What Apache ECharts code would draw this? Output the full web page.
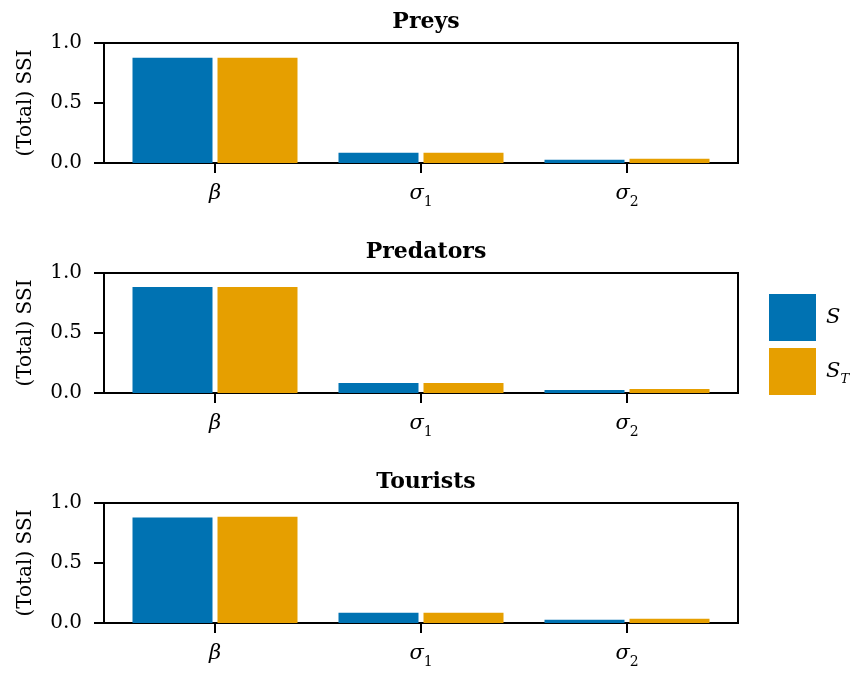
<!DOCTYPE html>
<html>
<head>
<meta charset="utf-8">
<script src="https://cdn.jsdelivr.net/npm/echarts@6/dist/echarts.min.js"></script>
<style>
  html, body { margin: 0; padding: 0; background: #fff; }
  #main { width: 858px; height: 674px; }
</style>
</head>
<body>
<div id="main"></div>
<script>
// data
const params = ['beta', 'sigma1', 'sigma2'];
const panelTitles = ['Preys', 'Predators', 'Tourists'];
const firstOrder = [
  [0.877, 0.086, 0.027],
  [0.883, 0.083, 0.025],
  [0.879, 0.086, 0.027]
];
const totalOrder = [
  [0.877, 0.086, 0.035],
  [0.883, 0.083, 0.033],
  [0.886, 0.086, 0.035]
];
const yTicks = [0, 0.5, 1.0];

const FONT = 'DejaVu Serif';
const BLUE = '#0072b2';
const ORANGE = '#e69f00';

const chart = echarts.init(document.getElementById('main'));

const panelTop = [43, 273, 503];
const grids = [], xAxes = [], yAxes = [], series = [], titles = [];

const labelRich = {
  i: { fontFamily: FONT, fontStyle: 'italic', fontSize: 21, lineHeight: 30, color: '#000' },
  s: { fontFamily: FONT, fontSize: 14, lineHeight: 14, verticalAlign: 'bottom', color: '#000' }
};
const fmtParam = (p) => {
  if (p === 'beta') return '{i|β}';
  if (p === 'sigma1') return '{i|σ}{s|1}';
  return '{i|σ}{s|2}';
};

panelTitles.forEach((t, k) => {
  const top = panelTop[k];
  // frame grid: box + y axis
  grids.push({ left: 104, width: 634, top: top, height: 120, show: true,
    borderColor: '#000', borderWidth: 2, containLabel: false });
  // inner grid: bars + category ticks
  grids.push({ left: 112, width: 618, top: top, height: 120, containLabel: false });

  xAxes.push({ gridIndex: 2 * k, type: 'value', min: 0, max: 1, show: false });
  yAxes.push({
    gridIndex: 2 * k, type: 'value', min: 0, max: 1, interval: 0.5,
    axisLine: { show: false },
    axisTick: { show: true, length: 10, lineStyle: { color: '#000', width: 2 } },
    splitLine: { show: false },
    axisLabel: { margin: 22, fontFamily: FONT, fontSize: 20, color: '#000',
      formatter: (v) => yTicks.includes(v) ? v.toFixed(1) : '' },
    name: '(Total) SSI', nameLocation: 'middle', nameGap: 68,
    nameTextStyle: { fontFamily: FONT, fontSize: 20, color: '#000' }
  });

  xAxes.push({
    gridIndex: 2 * k + 1, type: 'category', data: params,
    axisLine: { show: false },
    axisTick: { show: true, alignWithLabel: true, length: 10, lineStyle: { color: '#000', width: 2 } },
    axisLabel: { margin: 16, formatter: fmtParam, rich: labelRich }
  });
  yAxes.push({ gridIndex: 2 * k + 1, type: 'value', min: 0, max: 1, show: false });

  series.push({
    name: 'S', type: 'bar', xAxisIndex: 2 * k + 1, yAxisIndex: 2 * k + 1,
    data: firstOrder[k], barWidth: 80, barGap: '6.25%',
    itemStyle: { color: BLUE }, silent: true
  });
  series.push({
    name: 'ST', type: 'bar', xAxisIndex: 2 * k + 1, yAxisIndex: 2 * k + 1,
    data: totalOrder[k], barWidth: 80, barGap: '6.25%',
    itemStyle: { color: ORANGE }, silent: true
  });

  titles.push({
    text: t, left: 421, top: top - 37, textAlign: 'center',
    textStyle: { fontFamily: FONT, fontWeight: 'bold', fontSize: 22, color: '#000' }
  });
});

const option = {
  backgroundColor: '#ffffff',
  animation: false,
  title: titles,
  legend: {
    orient: 'vertical', left: 769, top: 294, padding: 0,
    itemWidth: 47, itemHeight: 47, itemGap: 7, icon: 'rect',
    data: ['S', 'ST'],
    formatter: (n) => n === 'S' ? '{i|S}' : '{i|S}{s|T}',
    textStyle: {
      padding: [0, 0, 0, 5],
      rich: {
        i: { fontFamily: FONT, fontStyle: 'italic', fontSize: 21, lineHeight: 30, color: '#000' },
        s: { fontFamily: FONT, fontStyle: 'italic', fontSize: 13, lineHeight: 13, verticalAlign: 'bottom', color: '#000' }
      }
    }
  },
  grid: grids,
  xAxis: xAxes,
  yAxis: yAxes,
  series: series
};

chart.setOption(option);
</script>
</body>
</html>
